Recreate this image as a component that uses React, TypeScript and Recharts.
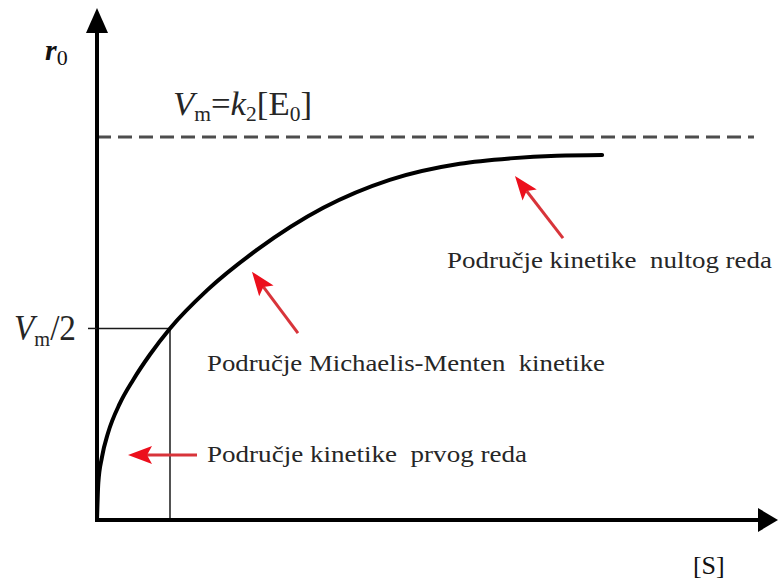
import React from 'react';
import { LineChart, Line, XAxis, YAxis, ReferenceLine, ReferenceDot } from 'recharts';

// substrate concentration [S] (in units of Km) and initial rate r0 (in units of Vm)
const substrate = [0, 0.004, 0.018, 0.068, 0.151, 0.315, 0.493, 0.726, 1.0, 1.51, 2.19, 3.1, 4.01, 4.97, 5.66, 6.3, 6.92];
const rate = [0, 0.026, 0.097, 0.164, 0.227, 0.305, 0.365, 0.432, 0.5, 0.6, 0.705, 0.815, 0.888, 0.93, 0.944, 0.951, 0.953];

const vmax = 1;
const halfVmax = 0.5;
const km = 1;
const vmaxLineEnd = 9;
const sMax = 9.11;
const rMax = 1.3;

const noteTexts = [
  'Područje kinetike  nultog reda',
  'Područje Michaelis-Menten  kinetike',
  'Područje kinetike  prvog reda',
];

const curveData = substrate.map((s, i) => ({ s, rate: rate[i] }));

// where each annotation sits, in data units
const notePos = [
  { s: 4.795, r: 0.658, len: 325 },
  { s: 1.507, r: 0.389, len: 398 },
  { s: 1.507, r: 0.151, len: 320 },
];
const arrowPos = [
  { from: { x: 6.384, y: 0.736 }, to: { x: 5.726, y: 0.898 } },
  { from: { x: 2.753, y: 0.488 }, to: { x: 2.123, y: 0.648 } },
  { from: { x: 1.37, y: 0.17 }, to: { x: 0.425, y: 0.17 } },
];

const SERIF = "'Liberation Serif', 'Times New Roman', Times, serif";
const INK = '#262626';

const RedArrow = (p: any) => {
  const { x1, y1, x2, y2 } = p;
  const dx = x2 - x1;
  const dy = y2 - y1;
  const len = Math.hypot(dx, dy) || 1;
  const ux = dx / len;
  const uy = dy / len;
  const head = 24;
  const half = 9;
  const bx = x2 - ux * head;
  const by = y2 - uy * head;
  const nx = x2 - ux * (head - 5);
  const ny = y2 - uy * (head - 5);
  const pts = [
    [x2, y2],
    [bx - uy * half, by + ux * half],
    [nx, ny],
    [bx + uy * half, by - ux * half],
  ]
    .map((q) => q.join(','))
    .join(' ');
  return (
    <g>
      <line x1={x1} y1={y1} x2={nx} y2={ny} stroke="#d8343a" strokeWidth={3} />
      <polygon points={pts} fill="#ec0f1c" />
    </g>
  );
};

const HalfTick = ({ x, y }: any) => (
  <text x={x - 10} y={y + 12} textAnchor="end" style={{ fontFamily: SERIF }} fontSize={36} fill={INK} textLength={62} lengthAdjust="spacingAndGlyphs">
    <tspan fontStyle="italic">V</tspan>
    <tspan fontSize={22} dy={6}>m</tspan>
    <tspan dy={-6}>/2</tspan>
  </text>
);

export default function App() {
  return (
    <div style={{ position: 'absolute', left: 0, top: 0, width: 778, height: 588, background: '#fff' }}>
      <LineChart
        width={778}
        height={588}
        data={curveData}
        margin={{ top: 22, right: 16, bottom: 28, left: 12 }}
      >
        <XAxis
          dataKey="s"
          type="number"
          domain={[0, sMax]}
          allowDataOverflow
          height={40}
          tick={false}
          tickLine={false}
          axisLine={{ stroke: '#000', strokeWidth: 4 }}
        />
        <YAxis
          type="number"
          domain={[0, rMax]}
          allowDataOverflow
          width={85}
          ticks={[halfVmax]}
          tickSize={9}
          tick={<HalfTick />}
          tickLine={{ stroke: '#1a1a1a', strokeWidth: 1.5 }}
          axisLine={{ stroke: '#000', strokeWidth: 4, strokeLinecap: 'square' }}
        />

        <ReferenceLine
          segment={[{ x: 0, y: vmax }, { x: vmaxLineEnd, y: vmax }]}
          stroke="#4d4d4d"
          strokeWidth={3}
          strokeDasharray="14 7"
        />
        <ReferenceLine segment={[{ x: 0, y: halfVmax }, { x: km, y: halfVmax }]} stroke="#1a1a1a" strokeWidth={1.5} />
        <ReferenceLine segment={[{ x: km, y: halfVmax }, { x: km, y: 0 }]} stroke="#1a1a1a" strokeWidth={1.5} />

        <Line
          dataKey="rate"
          type="monotone"
          stroke="#000"
          strokeWidth={4}
          strokeLinecap="round"
          dot={false}
          activeDot={false}
          isAnimationActive={false}
        />

        {arrowPos.map((a, i) => (
          <ReferenceLine key={'a' + i} segment={[a.from, a.to]} shape={RedArrow} />
        ))}

        {noteTexts.map((t, i) => (
          <ReferenceDot
            key={'n' + i}
            x={notePos[i].s}
            y={notePos[i].r}
            ifOverflow="visible"
            shape={(p: any) => (
              <text
                x={p.cx}
                y={p.cy}
                fontSize={24}
                fill={INK}
                style={{ whiteSpace: 'pre', fontFamily: SERIF }}
                textLength={notePos[i].len}
                lengthAdjust="spacingAndGlyphs"
              >
                {t}
              </text>
            )}
          />
        ))}

        {/* Vm = k2[E0] */}
        <ReferenceDot
          x={1.041}
          y={1.057}
          ifOverflow="visible"
          shape={(p: any) => (
            <text x={p.cx} y={p.cy} style={{ fontFamily: SERIF }} fontSize={34} fill={INK} textLength={139} lengthAdjust="spacingAndGlyphs">
              <tspan fontStyle="italic">V</tspan>
              <tspan fontSize={21} dy={6}>m</tspan>
              <tspan dy={-6}>=</tspan>
              <tspan fontStyle="italic">k</tspan>
              <tspan fontSize={21} dy={6}>2</tspan>
              <tspan dy={-6}>[E</tspan>
              <tspan fontSize={21} dy={6}>0</tspan>
              <tspan dy={-6}>]</tspan>
            </text>
          )}
        />

        {/* axis names */}
        <ReferenceDot
          x={-0.712}
          y={1.201}
          ifOverflow="visible"
          shape={(p: any) => (
            <text x={p.cx} y={p.cy} style={{ fontFamily: SERIF }} fill="#111">
              <tspan fontSize={30} fontStyle="italic" fontWeight="bold">r</tspan>
              <tspan fontSize={22} dy={5}>0</tspan>
            </text>
          )}
        />
        <ReferenceDot
          x={8.164}
          y={-0.141}
          ifOverflow="visible"
          shape={(p: any) => (
            <text x={p.cx} y={p.cy} style={{ fontFamily: SERIF }} fontSize={26} fill="#111">
              [S]
            </text>
          )}
        />

        {/* arrow heads on the axes */}
        <ReferenceDot
          x={sMax}
          y={0}
          ifOverflow="visible"
          shape={(p: any) => (
            <polygon points={`${p.cx - 4},${p.cy - 12} ${p.cx + 16},${p.cy} ${p.cx - 4},${p.cy + 12}`} fill="#000" />
          )}
        />
        <ReferenceDot
          x={0}
          y={rMax}
          ifOverflow="visible"
          shape={(p: any) => (
            <polygon points={`${p.cx - 11},${p.cy + 11} ${p.cx},${p.cy - 14} ${p.cx + 11},${p.cy + 11}`} fill="#000" />
          )}
        />
      </LineChart>
    </div>
  );
}
